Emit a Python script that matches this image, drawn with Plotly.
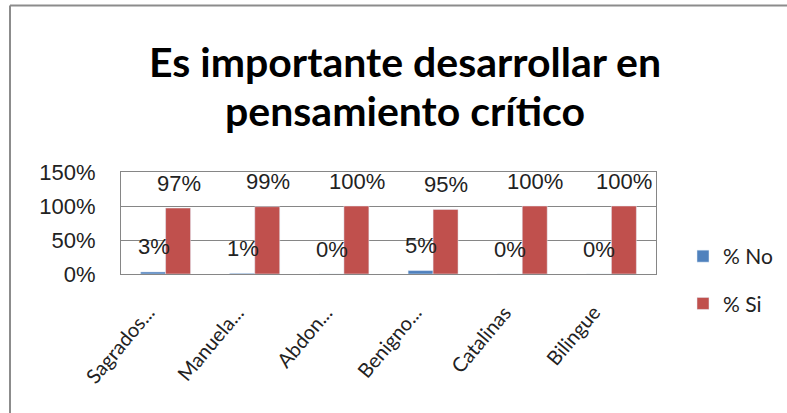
import plotly.graph_objects as go

# Survey results per school
schools = ["Sagrados...", "Manuela...", "Abdon...", "Benigno...", "Catalinas", "Bilingue"]
pct_no = [3, 1, 0, 5, 0, 0]
pct_si = [97, 99, 100, 95, 100, 100]
y_ticks = [0, 50, 100, 150]

BLUE = "#4F81BD"
RED = "#C0504D"
GRID = "#868686"
LABEL_FONT = dict(family="Liberation Sans, Arial, sans-serif", size=22, color="#222222")
TITLE_FONT = dict(family="Lato, Calibri, sans-serif", size=41, color="black", weight="bold")
CAT_FONT = dict(family="Lato, Calibri, sans-serif", size=20, color="#222222")

fig = go.Figure()
fig.add_trace(go.Bar(name="% No", x=schools, y=pct_no, marker_color=BLUE,
                     legendgroup="no"))
fig.add_trace(go.Bar(name="% Si", x=schools, y=pct_si, marker_color=RED,
                     legendgroup="si"))

# Plot-area edges in pixels, used to place items outside the axes
L, R, T, B = 121, 656, 172, 274
def px(xp):
    return (xp - L) / (R - L)
def py(yp):
    return (B - yp) / (B - T)

# Value labels sitting above each bar
annotations = []
for s, v in zip(schools, pct_no):
    annotations.append(dict(x=s, y=v, xref="x", yref="y", text=f"{v}%",
                            showarrow=False, xshift=-12, yshift=25,
                            font=LABEL_FONT))
for s, v in zip(schools, pct_si):
    annotations.append(dict(x=s, y=v, xref="x", yref="y", text=f"{v}%",
                            showarrow=False, xshift=13, yshift=25,
                            font=LABEL_FONT))

# Slanted category labels under the axis
for s in schools:
    annotations.append(dict(x=s, y=0, xref="x", yref="y", text=s,
                            showarrow=False, textangle=-50,
                            xanchor="right", yanchor="top",
                            xshift=-4, yshift=-24, font=CAT_FONT))

# Two-line title
for line, ypix in (("Es importante desarrollar en", 62), ("pensamiento crítico", 110)):
    annotations.append(dict(x=px(405), y=py(ypix), xref="paper", yref="paper",
                            xanchor="center", yanchor="middle", text=line,
                            showarrow=False, font=TITLE_FONT))

# Chart-area border (left and top edges)
shapes = [
    dict(type="line", xref="paper", yref="paper", x0=px(10), x1=px(10),
         y0=py(420), y1=py(5.5), line=dict(color="#8c8c8c", width=2)),
    dict(type="line", xref="paper", yref="paper", x0=px(10), x1=px(790),
         y0=py(5.5), y1=py(5.5), line=dict(color="#8c8c8c", width=2)),
]

fig.update_layout(
    width=787, height=413,
    margin=dict(l=L, r=787 - R, t=T, b=413 - B, autoexpand=False),
    paper_bgcolor="white", plot_bgcolor="white",
    barmode="group", bargap=0.44, bargroupgap=0,
    showlegend=True,
    legend=dict(x=px(683), y=py(236), xanchor="left", yanchor="top",
                font=dict(family="Lato, Calibri, sans-serif", size=21, color="#222222"),
                tracegroupgap=17, traceorder="grouped", bgcolor="rgba(0,0,0,0)"),
    annotations=annotations,
    shapes=shapes,
    xaxis=dict(range=[-0.5, len(schools) - 0.5], autorange=False,
               showline=True, linecolor=GRID, linewidth=1, mirror=True,
               showticklabels=False, showgrid=False, ticks=""),
    yaxis=dict(range=[0, 150], autorange=False, tickvals=y_ticks,
               ticktext=[f"{t}%" for t in y_ticks],
               showgrid=True, gridcolor=GRID, gridwidth=1,
               showline=True, linecolor=GRID, linewidth=1, mirror=True,
               zeroline=False,
               tickfont=LABEL_FONT,
               ticks="outside", ticklen=20, tickcolor="rgba(0,0,0,0)"),
)

fig.write_html("out.html")
